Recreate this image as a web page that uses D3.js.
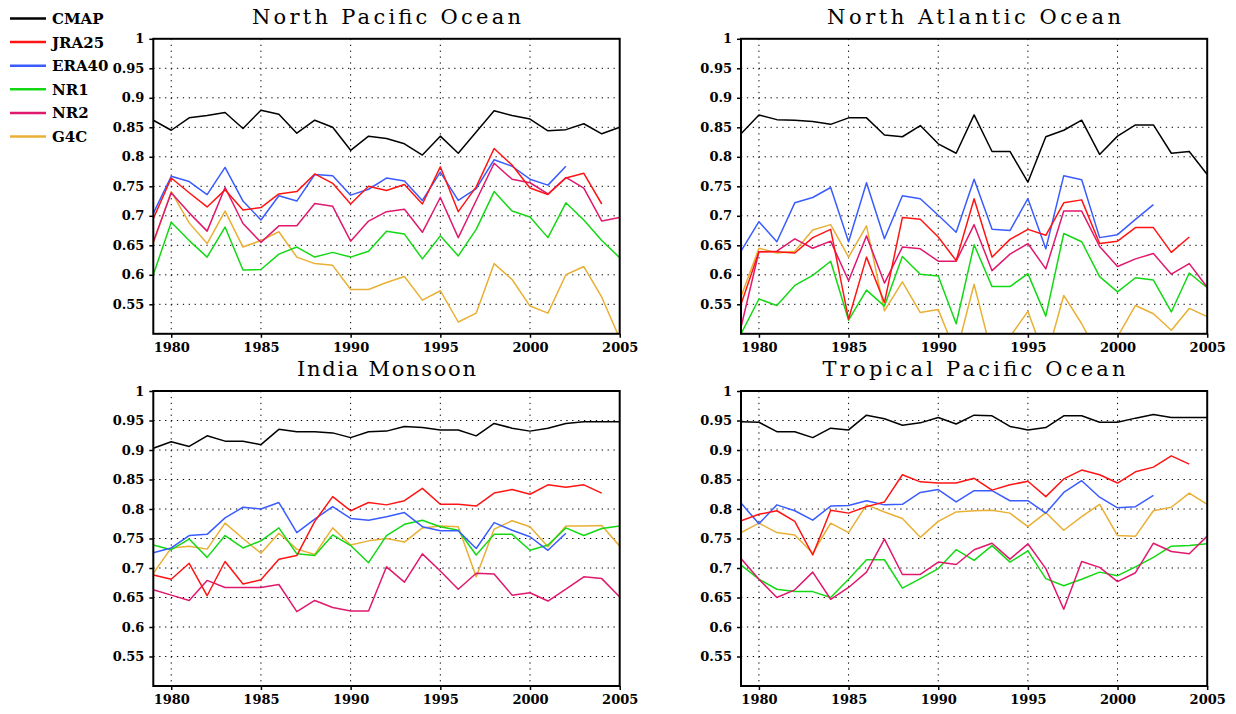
<!DOCTYPE html>
<html><head><meta charset="utf-8">
<script src="https://cdn.jsdelivr.net/npm/d3@7"></script>
<style>body{margin:0;background:#fff}</style></head>
<body>
<svg id="c" width="1236" height="714"></svg>
<script>
const years = [1979,1980,1981,1982,1983,1984,1985,1986,1987,1988,1989,1990,1991,1992,1993,1994,1995,1996,1997,1998,1999,2000,2001,2002,2003,2004,2005];
const seriesNames = ["CMAP","JRA25","ERA40","NR1","NR2","G4C"];
const seriesColors = ["#000000","#ff1414","#3a5cff","#14d814","#e0186e","#e8b034"];
const panelTitles = ["North Pacific Ocean","North Atlantic Ocean","India Monsoon","Tropical Pacific Ocean"];
const xTickValues = [1980,1985,1990,1995,2000,2005];
const yTickValues = [0.55,0.6,0.65,0.7,0.75,0.8,0.85,0.9,0.95,1];
const yTickLabels = ["0.55","0.6","0.65","0.7","0.75","0.8","0.85","0.9","0.95","1"];

// North Pacific Ocean
const NP_CMAP  = [0.862,0.845,0.866,0.870,0.875,0.848,0.879,0.872,0.840,0.862,0.850,0.811,0.835,0.831,0.822,0.803,0.835,0.806,0.842,0.878,0.870,0.864,0.844,0.846,0.856,0.839,0.850];
const NP_JRA25 = [0.695,0.764,0.739,0.715,0.744,0.710,0.714,0.737,0.741,0.771,0.755,0.720,0.750,0.743,0.753,0.720,0.783,0.707,0.749,0.814,0.786,0.747,0.736,0.764,0.772,0.720];
const NP_ERA40 = [0.704,0.767,0.758,0.736,0.782,0.725,0.693,0.734,0.725,0.770,0.768,0.735,0.745,0.764,0.759,0.726,0.774,0.726,0.746,0.795,0.784,0.762,0.752,0.784];
const NP_NR1   = [0.600,0.689,0.658,0.630,0.681,0.608,0.609,0.635,0.647,0.630,0.638,0.630,0.640,0.674,0.669,0.627,0.666,0.632,0.677,0.741,0.708,0.698,0.663,0.722,0.693,0.658,0.629];
const NP_NR2   = [0.656,0.739,0.705,0.674,0.748,0.687,0.655,0.683,0.683,0.721,0.716,0.657,0.691,0.707,0.711,0.672,0.731,0.663,0.726,0.789,0.762,0.756,0.737,0.765,0.747,0.691,0.697];
const NP_G4C   = [0.653,0.741,0.688,0.653,0.708,0.647,0.658,0.673,0.630,0.619,0.616,0.575,0.575,0.587,0.597,0.557,0.573,0.520,0.535,0.619,0.592,0.547,0.535,0.600,0.614,0.562,0.492];

// North Atlantic Ocean
const NA_CMAP  = [0.839,0.871,0.863,0.862,0.860,0.855,0.866,0.866,0.837,0.834,0.853,0.822,0.806,0.871,0.809,0.809,0.757,0.834,0.845,0.862,0.804,0.835,0.854,0.854,0.806,0.809,0.770];
const NA_JRA25 = [0.550,0.639,0.639,0.637,0.663,0.677,0.525,0.630,0.553,0.697,0.694,0.664,0.624,0.729,0.630,0.660,0.677,0.667,0.722,0.727,0.653,0.657,0.680,0.680,0.638,0.664];
const NA_ERA40 = [0.640,0.690,0.656,0.722,0.731,0.748,0.656,0.756,0.661,0.734,0.729,0.701,0.672,0.762,0.677,0.675,0.729,0.644,0.768,0.761,0.663,0.668,0.694,0.719];
const NA_NR1   = [0.500,0.559,0.548,0.582,0.599,0.623,0.523,0.574,0.547,0.631,0.601,0.598,0.517,0.651,0.580,0.580,0.602,0.530,0.670,0.656,0.597,0.571,0.595,0.591,0.537,0.603,0.578];
const NA_NR2   = [0.511,0.639,0.640,0.661,0.645,0.657,0.590,0.666,0.586,0.647,0.644,0.623,0.623,0.685,0.607,0.635,0.653,0.610,0.708,0.708,0.648,0.614,0.627,0.636,0.601,0.619,0.579];
const NA_G4C   = [0.563,0.645,0.637,0.640,0.676,0.685,0.630,0.683,0.539,0.588,0.536,0.541,0.466,0.584,0.464,0.495,0.538,0.455,0.565,0.517,0.460,0.495,0.548,0.534,0.506,0.543,0.529];

// India Monsoon
const IM_CMAP  = [0.903,0.914,0.906,0.924,0.915,0.915,0.909,0.935,0.931,0.931,0.929,0.921,0.931,0.932,0.940,0.938,0.934,0.934,0.924,0.945,0.937,0.932,0.937,0.945,0.948,0.948,0.948];
const IM_JRA25 = [0.688,0.681,0.708,0.653,0.711,0.673,0.680,0.715,0.721,0.779,0.821,0.797,0.811,0.807,0.814,0.835,0.808,0.808,0.805,0.827,0.833,0.825,0.841,0.837,0.841,0.827];
const IM_ERA40 = [0.726,0.734,0.755,0.757,0.785,0.803,0.800,0.811,0.760,0.783,0.804,0.784,0.781,0.787,0.794,0.770,0.763,0.763,0.733,0.777,0.764,0.753,0.730,0.759];
const IM_NR1   = [0.739,0.731,0.749,0.718,0.755,0.734,0.746,0.768,0.724,0.721,0.756,0.738,0.709,0.755,0.774,0.781,0.770,0.764,0.722,0.757,0.757,0.730,0.739,0.768,0.755,0.767,0.771];
const IM_NR2   = [0.663,0.654,0.645,0.679,0.667,0.667,0.667,0.672,0.626,0.645,0.633,0.627,0.627,0.702,0.676,0.724,0.695,0.664,0.691,0.690,0.654,0.658,0.644,0.664,0.685,0.682,0.651];
const IM_G4C   = [0.691,0.734,0.737,0.732,0.776,0.750,0.725,0.759,0.732,0.723,0.768,0.739,0.746,0.750,0.744,0.768,0.771,0.770,0.685,0.766,0.780,0.770,0.736,0.771,0.771,0.772,0.737];

// Tropical Pacific Ocean
const TP_CMAP  = [0.948,0.947,0.931,0.931,0.921,0.937,0.934,0.959,0.953,0.942,0.946,0.955,0.944,0.959,0.958,0.940,0.934,0.938,0.958,0.958,0.947,0.947,0.954,0.960,0.955,0.955,0.955];
const TP_JRA25 = [0.780,0.791,0.797,0.779,0.722,0.798,0.793,0.804,0.812,0.858,0.846,0.844,0.844,0.852,0.832,0.841,0.847,0.821,0.851,0.866,0.858,0.844,0.863,0.871,0.890,0.876];
const TP_ERA40 = [0.810,0.775,0.807,0.797,0.781,0.805,0.806,0.814,0.807,0.808,0.828,0.833,0.812,0.831,0.831,0.814,0.814,0.793,0.828,0.848,0.820,0.802,0.804,0.823];
const TP_NR1   = [0.705,0.681,0.664,0.660,0.660,0.650,0.681,0.714,0.714,0.666,0.682,0.699,0.731,0.713,0.738,0.710,0.729,0.682,0.670,0.681,0.693,0.687,0.702,0.718,0.737,0.738,0.741];
const TP_NR2   = [0.716,0.681,0.650,0.663,0.693,0.647,0.667,0.693,0.749,0.689,0.689,0.710,0.706,0.731,0.742,0.715,0.741,0.699,0.630,0.711,0.701,0.677,0.692,0.742,0.728,0.724,0.754];
const TP_G4C   = [0.760,0.776,0.760,0.756,0.725,0.776,0.760,0.807,0.795,0.784,0.752,0.779,0.795,0.797,0.798,0.793,0.770,0.794,0.764,0.787,0.808,0.755,0.754,0.797,0.803,0.827,0.808];

const panelData = [
  [NP_CMAP, NP_JRA25, NP_ERA40, NP_NR1, NP_NR2, NP_G4C],
  [NA_CMAP, NA_JRA25, NA_ERA40, NA_NR1, NA_NR2, NA_G4C],
  [IM_CMAP, IM_JRA25, IM_ERA40, IM_NR1, IM_NR2, IM_G4C],
  [TP_CMAP, TP_JRA25, TP_ERA40, TP_NR1, TP_NR2, TP_G4C]
];

const svg = d3.select("#c");
const panelBoxes = [
  {l:153.3, r:619.7, t:38.8, b:333.8},
  {l:741,   r:1207.2, t:38.8, b:333.8},
  {l:153.3, r:619.7, t:391,  b:686},
  {l:741,   r:1207.2, t:391,  b:686}
];
const labelFont = "'DejaVu Serif', serif";
const drawOrder = [0,5,3,4,2,1];
const titleWidths = [269, 294, 179, 303];

panelBoxes.forEach((bx, pi) => {
  const g = svg.append("g");
  const x = d3.scaleLinear().domain([1979, 2005]).range([bx.l, bx.r]);
  const y = d3.scaleLinear().domain([0.5, 1]).range([bx.b, bx.t]);

  // dotted grid
  g.append("g").selectAll("line").data(xTickValues.filter(v => v < 2005)).join("line")
    .attr("x1", d => x(d)).attr("x2", d => x(d)).attr("y1", bx.t).attr("y2", bx.b)
    .attr("stroke", "#000").attr("stroke-width", 1).attr("stroke-dasharray", "1.3,4.6");
  g.append("g").selectAll("line").data(yTickValues.filter(v => v < 1)).join("line")
    .attr("y1", d => y(d)).attr("y2", d => y(d)).attr("x1", bx.l).attr("x2", bx.r)
    .attr("stroke", "#000").attr("stroke-width", 1).attr("stroke-dasharray", "1.3,4.6");

  // clip
  const cid = "clip" + pi;
  svg.append("defs").append("clipPath").attr("id", cid).append("rect")
    .attr("x", bx.l).attr("y", bx.t).attr("width", bx.r - bx.l).attr("height", bx.b - bx.t);

  const line = d3.line().x((d, i) => x(years[i])).y(d => y(d));
  const lg = g.append("g").attr("clip-path", `url(#${cid})`);
  drawOrder.forEach(si => {
    lg.append("path").datum(panelData[pi][si])
      .attr("d", line).attr("fill", "none")
      .attr("stroke", seriesColors[si]).attr("stroke-width", 1.5)
      .attr("stroke-linejoin", "round");
  });

  // axes
  const xa = d3.axisBottom(x).tickValues(xTickValues).tickSize(4).tickPadding(5).tickFormat(d3.format("d"));
  const xg = g.append("g").attr("transform", `translate(0,${bx.b})`).call(xa);
  const ya = d3.axisLeft(y).tickValues(yTickValues).tickSize(4).tickPadding(5)
    .tickFormat((d, i) => yTickLabels[i]);
  const yg = g.append("g").attr("transform", `translate(${bx.l},0)`).call(ya);
  [xg, yg].forEach(a => {
    a.select(".domain").remove();
    a.selectAll(".tick line").attr("stroke", "#000").attr("stroke-width", 1.5);
    a.selectAll(".tick text").attr("fill", "#000")
      .style("font-family", labelFont).style("font-weight", "bold").style("font-size", "13px");
  });

  // frame
  g.append("rect").attr("x", bx.l).attr("y", bx.t).attr("width", bx.r - bx.l).attr("height", bx.b - bx.t)
    .attr("fill", "none").attr("stroke", "#000").attr("stroke-width", 2);

  // title
  g.append("text").attr("x", (bx.l + bx.r) / 2).attr("y", bx.t - 15)
    .attr("text-anchor", "middle")
    .attr("textLength", titleWidths[pi]).attr("lengthAdjust", "spacing")
    .style("font-family", labelFont).style("font-size", "21px").attr("fill", "#000")
    .text(panelTitles[pi]);
});

// legend
const lgd = svg.append("g");
seriesNames.forEach((n, i) => {
  const yy = 18.5 + i * 23.6;
  lgd.append("line").attr("x1", 10).attr("x2", 46).attr("y1", yy).attr("y2", yy)
    .attr("stroke", seriesColors[i]).attr("stroke-width", 2.5);
  lgd.append("text").attr("x", 52).attr("y", yy).attr("dy", "0.36em")
    .style("font-family", labelFont).style("font-weight", "bold").style("font-size", "15px")
    .attr("fill", "#000").text(n);
});
</script>
</body></html>
